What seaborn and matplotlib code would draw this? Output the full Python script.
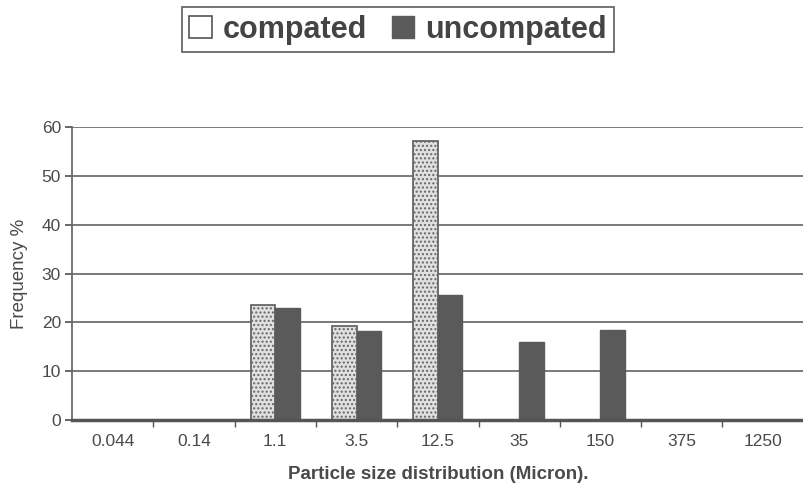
import matplotlib
matplotlib.use("Agg")
import matplotlib.pyplot as plt
import seaborn as sns
import pandas as pd
from matplotlib.patches import Patch

sizes = ["0.044", "0.14", "1.1", "3.5", "12.5", "35", "150", "375", "1250"]
compacted = [0, 0, 23.5, 19.2, 57.2, 0, 0, 0, 0]
uncompacted = [0, 0, 23.0, 18.3, 25.7, 16.0, 18.4, 0, 0]
series_names = ["compated", "uncompated"]
y_ticks = [0, 10, 20, 30, 40, 50, 60]

df = pd.DataFrame({
    "size": sizes * 2,
    "freq": compacted + uncompacted,
    "type": [series_names[0]] * len(sizes) + [series_names[1]] * len(sizes),
})

sns.set_theme(style="white")
plt.rcParams["font.family"] = ["Liberation Sans", "DejaVu Sans"]

fig = plt.figure(figsize=(8.04, 4.93), dpi=100)
ax = fig.add_axes([0.0896, 0.148, 0.91, 0.594])

colors = {"compated": "#e0e0e0", "uncompated": "#5a5a5a"}
sns.barplot(data=df, x="size", y="freq", hue="type", order=sizes,
            hue_order=series_names, palette=colors, width=0.6,
            ax=ax, legend=False, saturation=1)

plt.rcParams["hatch.color"] = "#808080"
n = len(sizes)
for i, p in enumerate(ax.patches[:n]):
    p.set_hatch("....")
    p.set_edgecolor("#666666")
    p.set_linewidth(1.3)
for p in ax.patches[n:2 * n]:
    p.set_edgecolor("#5a5a5a")

txt = "#4a4a4a"
ax.set_ylim(0, 60)
ax.set_xlim(-0.5, n - 0.5)
ax.set_yticks(y_ticks)
ax.set_yticklabels([str(t) for t in y_ticks], color=txt, fontsize=12.5)
ax.yaxis.grid(True, color="#555555", linewidth=1.1)
ax.set_axisbelow(True)
ax.set_xticks(range(n))
ax.set_xticklabels(sizes, color=txt, fontsize=12.5)
ax.set_xticks([i + 0.5 for i in range(n - 1)], minor=True)
ax.tick_params(axis="x", which="major", length=0, pad=10)
ax.tick_params(axis="x", which="minor", length=5, color="#555555", direction="out", bottom=True)
ax.tick_params(axis="y", length=5, color="#555555", direction="out", left=True, pad=3)

for s in ["top", "right"]:
    ax.spines[s].set_visible(False)
ax.spines["left"].set_color("#666666")
ax.spines["bottom"].set_color("#555555")
ax.spines["bottom"].set_linewidth(2.5)

ax.set_ylabel("Frequency %", color=txt, fontsize=13.5, labelpad=10)
ax.set_xlabel("Particle size distribution (Micron).", color=txt,
              fontsize=13.5, fontweight="bold", labelpad=12)

handles = [Patch(facecolor="white", edgecolor="#555555", linewidth=1.2),
           Patch(facecolor="#5a5a5a", edgecolor="#5a5a5a")]
leg = fig.legend(handles, series_names, loc="center", bbox_to_anchor=(0.495, 0.94),
                 ncol=2, frameon=True, fancybox=False,
                 prop={"size": 22, "weight": "bold"},
                 handlelength=0.75, handleheight=0.75, handletextpad=0.35,
                 columnspacing=0.8, borderpad=0.25, labelcolor="#444444")
leg.get_frame().set_edgecolor("#444444")
leg.get_frame().set_linewidth(1.3)

fig.savefig("out.png", dpi=100)
